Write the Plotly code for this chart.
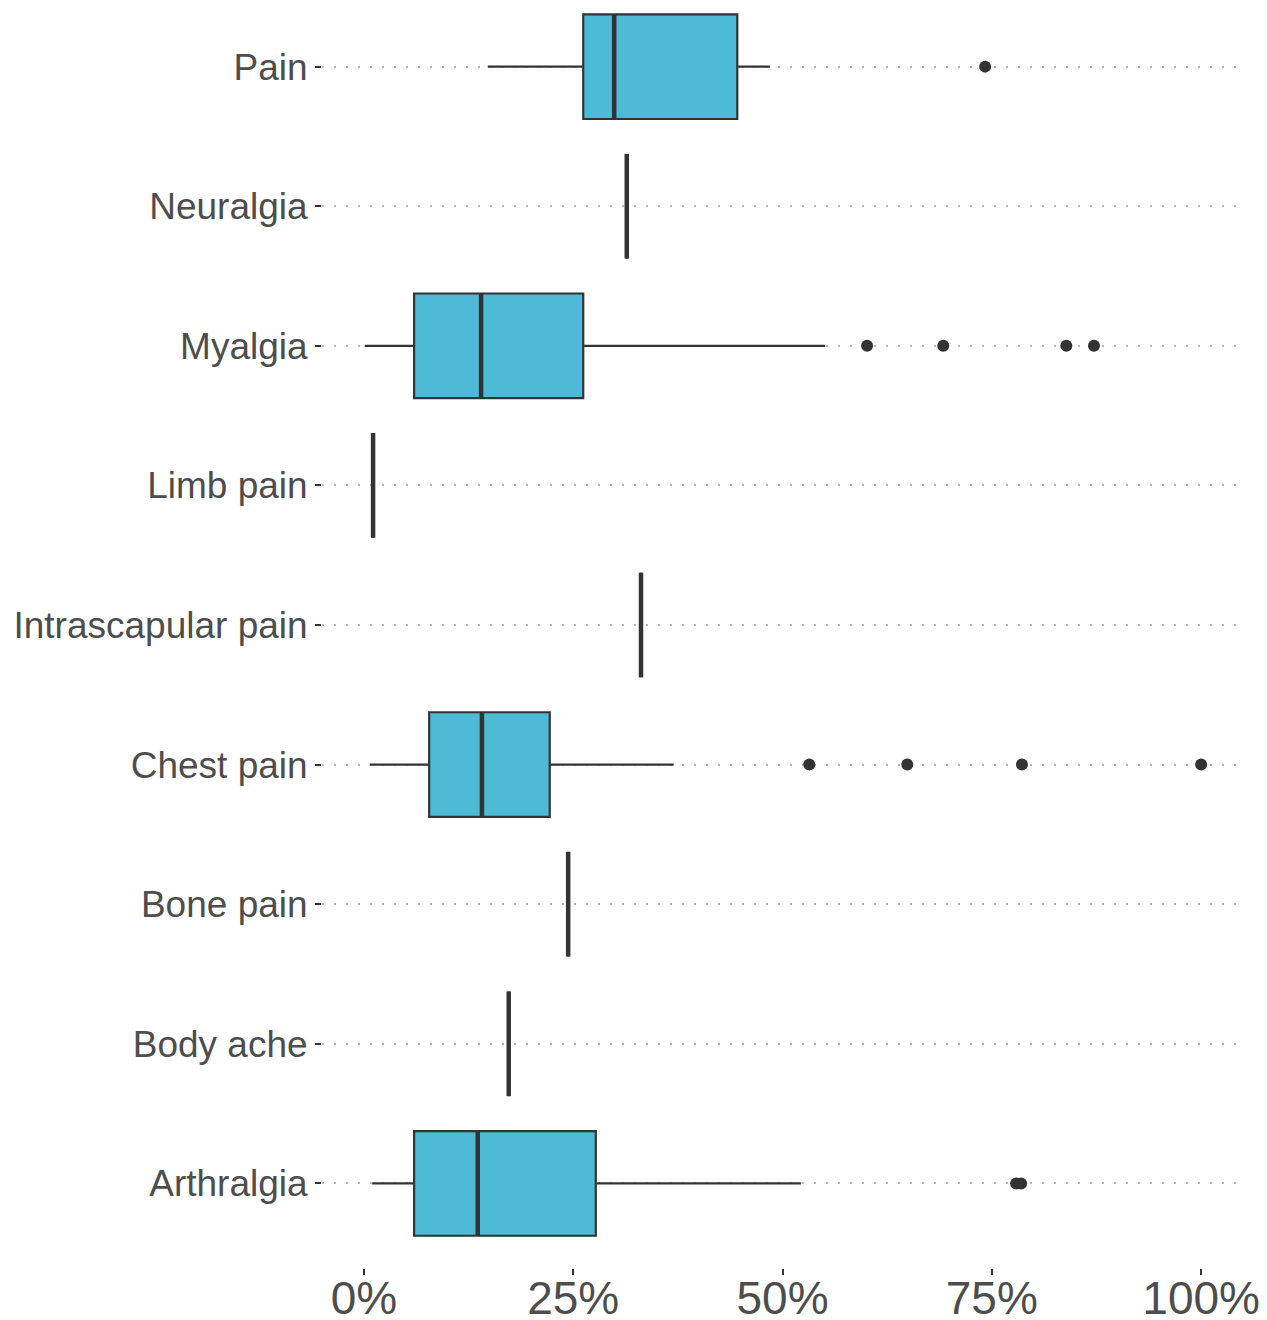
import plotly.graph_objects as go

categories = ["Arthralgia", "Body ache", "Bone pain", "Chest pain", "Intrascapular pain",
              "Limb pain", "Myalgia", "Neuralgia", "Pain"]
lower_whisker = [1.0, 17.3, 24.4, 0.7, 33.1, 1.1, 0.1, 31.4, 14.8]
q1_vals       = [6.0, 17.3, 24.4, 7.8, 33.1, 1.1, 6.0, 31.4, 26.2]
median_vals   = [13.6, 17.3, 24.4, 14.1, 33.1, 1.1, 14.0, 31.4, 29.9]
q3_vals       = [27.7, 17.3, 24.4, 22.2, 33.1, 1.1, 26.2, 31.4, 44.6]
upper_whisker = [52.2, 17.3, 24.4, 37.0, 33.1, 1.1, 55.1, 31.4, 48.5]
outliers = {
    "Arthralgia": [77.9, 78.5],
    "Chest pain": [53.2, 64.9, 78.6, 100.0],
    "Myalgia": [60.1, 69.2, 83.9, 87.2],
    "Pain": [74.2],
}
x_ticks = [0, 25, 50, 75, 100]
x_tick_labels = ["0%", "25%", "50%", "75%", "100%"]

FILL = "#4DBBD5"
DARK = "#333333"
TEXT = "#4D4D4D"
BOX_W = 0.75

positions = list(range(1, len(categories) + 1))

fig = go.Figure()
for i, cat in enumerate(categories):
    fig.add_trace(go.Box(
        y=[positions[i]], orientation="h",
        q1=[q1_vals[i]], median=[median_vals[i]], q3=[q3_vals[i]],
        lowerfence=[lower_whisker[i]], upperfence=[upper_whisker[i]],
        fillcolor=FILL, line=dict(color=DARK, width=2.2),
        width=BOX_W, whiskerwidth=0, boxpoints=False,
        showlegend=False, hoverinfo="skip",
    ))
    fig.add_shape(type="line", xref="x", yref="y",
                  x0=median_vals[i], x1=median_vals[i],
                  y0=positions[i] - BOX_W / 2, y1=positions[i] + BOX_W / 2,
                  line=dict(color=DARK, width=4.5))

for cat, vals in outliers.items():
    p = positions[categories.index(cat)]
    fig.add_trace(go.Scatter(
        x=vals, y=[p] * len(vals), mode="markers",
        marker=dict(color=DARK, size=12), showlegend=False, hoverinfo="skip",
    ))

# the page body has an 8px margin, so the figure is sized to fit the window
fig.update_layout(
    width=1259, height=1312,
    margin=dict(l=314, r=24, t=0, b=52),
    plot_bgcolor="white", paper_bgcolor="white",
    font=dict(family="Liberation Sans, Arial, sans-serif", color=TEXT),
)
fig.update_xaxes(
    range=[-5, 105], tickvals=x_ticks, ticktext=x_tick_labels,
    ticks="outside", ticklen=6, tickwidth=2, tickcolor=DARK,
    tickfont=dict(size=46, color=TEXT), ticklabelstandoff=-16,
    showgrid=False, zeroline=False, showline=False, automargin=False,
)
fig.update_yaxes(
    range=[0.394, 9.42], tickvals=positions, ticktext=categories,
    ticks="outside", ticklen=6, tickwidth=2, tickcolor=DARK,
    tickfont=dict(size=37, color=TEXT),
    showgrid=True, gridcolor="#B4B4B4", gridwidth=2, griddash="2px,10px",
    zeroline=False, showline=False, automargin=False,
)

fig.write_html("out.html")
